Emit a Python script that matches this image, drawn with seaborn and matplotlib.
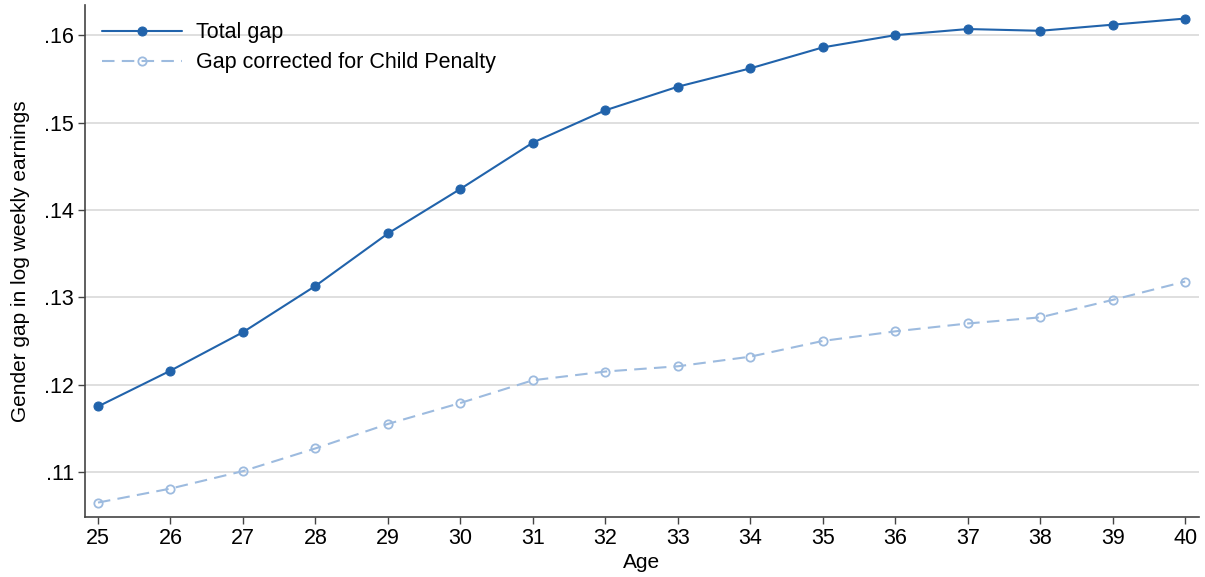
import matplotlib
matplotlib.use('Agg')
import matplotlib.pyplot as plt
import seaborn as sns
import pandas as pd

# Data
ages = list(range(25, 41))
total_gap = [.1175, .1216, .1260, .1313, .1373, .1424, .1477, .1514,
             .1541, .1562, .1586, .1600, .1607, .1605, .1612, .1619]
corrected_gap = [.1065, .1081, .1101, .1127, .1155, .1179, .1205, .1215,
                 .1221, .1232, .1250, .1261, .1270, .1277, .1297, .1318]
series_names = ['Total gap', 'Gap corrected for Child Penalty']
y_ticks = [.11, .12, .13, .14, .15, .16]

sns.set_theme(style='white')
plt.rcParams['font.family'] = ['Liberation Sans', 'DejaVu Sans']
plt.rcParams['text.color'] = 'black'
plt.rcParams['axes.labelcolor'] = 'black'
plt.rcParams['xtick.color'] = 'black'
plt.rcParams['ytick.color'] = 'black'

df = pd.DataFrame({'Age': ages * 2,
                   'gap': total_gap + corrected_gap,
                   'series': [series_names[0]] * len(ages) + [series_names[1]] * len(ages)})

fig = plt.figure(figsize=(12.05, 5.77), dpi=100)
ax = fig.add_axes([0.0705, 0.104, 0.9245, 0.887])

dark = '#2163ab'
light = '#9dbbdf'

for y in y_ticks:
    ax.axhline(y, color='#dcdcdc', lw=1.3, zorder=0)

sns.lineplot(data=df[df.series == series_names[0]], x='Age', y='gap', ax=ax,
             color=dark, lw=1.5, marker='o', markersize=6.5,
             markeredgecolor=dark, markerfacecolor=dark, label=series_names[0])
sns.lineplot(data=df[df.series == series_names[1]], x='Age', y='gap', ax=ax,
             color=light, lw=1.5, marker='o', markersize=6,
             markeredgecolor=light, markerfacecolor='none', markeredgewidth=1.3,
             dashes=(6, 3.5), label=series_names[1])

ax.set_xlim(24.82, 40.19)
ax.set_ylim(.10485, .16343)
ax.set_xticks(ages)
ax.set_yticks(y_ticks)
ax.set_yticklabels(['.11', '.12', '.13', '.14', '.15', '.16'])
ax.tick_params(axis='both', labelsize=15.5, length=5, width=1, color='#444444',
               direction='out', bottom=True, left=True, pad=3)
for s in ['top', 'right']:
    ax.spines[s].set_visible(False)
for s in ['left', 'bottom']:
    ax.spines[s].set_color('#444444')
    ax.spines[s].set_linewidth(1.2)

ax.set_xlabel('Age', fontsize=15, labelpad=3)
ax.set_ylabel('Gender gap in log weekly earnings', fontsize=15, labelpad=10)

ax.legend(loc='upper left', frameon=False, fontsize=15.5, handlelength=3.7,
          bbox_to_anchor=(0.0, 1.0), labelspacing=0.42, handletextpad=0.65,
          borderpad=0.3)

fig.savefig('out.png', dpi=100)
